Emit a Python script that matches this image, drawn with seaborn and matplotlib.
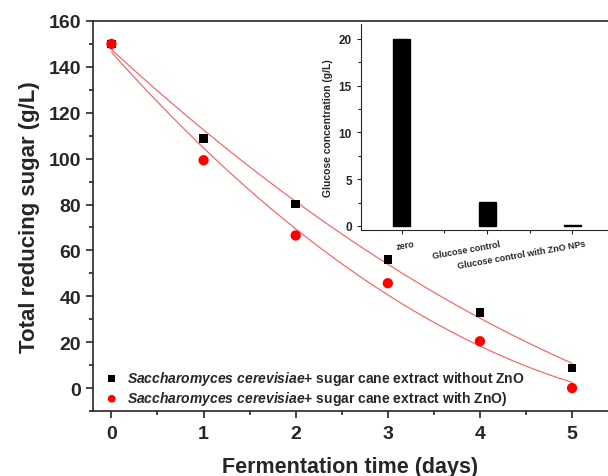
import numpy as np
import pandas as pd
import matplotlib
matplotlib.use('Agg')
import matplotlib.pyplot as plt
import matplotlib.transforms as mtransforms
from matplotlib.ticker import MultipleLocator
import seaborn as sns

sns.set_style('ticks')
plt.rcParams['font.family'] = ['Liberation Sans', 'DejaVu Sans']
plt.rcParams['mathtext.fontset'] = 'custom'
plt.rcParams['mathtext.it'] = 'Liberation Sans:italic:bold'
plt.rcParams['mathtext.rm'] = 'Liberation Sans:bold'

# --- data ---
days = [0, 1, 2, 3, 4, 5]
sugar_without_zno = [150, 108.7, 80.2, 56, 33, 8.8]
sugar_with_zno = [150, 99.3, 66.5, 45.7, 20.4, 0]

inset_labels = ['zero', 'Glucose control', 'Glucose control with ZnO NPs']
glucose_conc = [20, 2.55, 0.15]

label_without = r'$\mathit{Saccharomyces\ cerevisiae}$+ sugar cane extract without ZnO'
label_with = r'$\mathit{Saccharomyces\ cerevisiae}$+ sugar cane extract with ZnO)'

df = pd.DataFrame({'day': days, 'without': sugar_without_zno, 'with': sugar_with_zno})

fig = plt.figure(figsize=(6.08, 4.77), dpi=100)
ax = fig.add_axes([93 / 608, 65 / 477, 1 - 93 / 608, 390 / 477])

# fitted curves (2nd order) + points
sns.regplot(ax=ax, data=df, x='day', y='without', order=2, ci=None, scatter=False,
            line_kws={'color': '#ff5a5a', 'lw': 0.8})
sns.regplot(ax=ax, data=df, x='day', y='with', order=2, ci=None, scatter=False,
            line_kws={'color': '#ff5a5a', 'lw': 0.8})
sns.scatterplot(ax=ax, data=df, x='day', y='without', marker='s', color='black',
                s=38, edgecolor='none', label=label_without, zorder=3)
sns.scatterplot(ax=ax, data=df, x='day', y='with', marker='o', color='red',
                s=55, edgecolor='none', label=label_with, zorder=3)

ax.set_xlim(-0.2, 5.39)
ax.set_ylim(-10, 160)
ax.xaxis.set_major_locator(MultipleLocator(1))
ax.xaxis.set_minor_locator(MultipleLocator(0.5))
ax.yaxis.set_major_locator(MultipleLocator(20))
ax.yaxis.set_minor_locator(MultipleLocator(10))
ax.tick_params(which='major', direction='out', length=5, width=1.2, labelsize=14)
ax.tick_params(axis='x', which='major', pad=5)
ax.tick_params(which='minor', direction='out', length=3, width=1.2)
for lab in ax.get_xticklabels() + ax.get_yticklabels():
    lab.set_fontweight('bold')
for s in ['left', 'bottom', 'top']:
    ax.spines[s].set_linewidth(1.2)
ax.spines['right'].set_visible(False)
ax.set_xlabel('Fermentation time (days)', fontsize=15.5, fontweight='bold', labelpad=10)
ax.set_ylabel('Total reducing sugar (g/L)', fontsize=16, fontweight='bold', labelpad=6)

ax.legend(loc='lower left', bbox_to_anchor=(0.012, -0.005), borderaxespad=0,
          frameon=False, prop={'size': 10, 'weight': 'bold'},
          handlelength=1, handletextpad=0.6, labelspacing=0.15, markerscale=0.75)

# --- inset bar chart ---
ins = fig.add_axes([361 / 608, 246 / 477, 1 - 361 / 608, 206 / 477])
sns.barplot(ax=ins, x=inset_labels, y=glucose_conc, color='black', width=0.2,
            edgecolor='black', saturation=1)
ins.set_xlim(-0.48, 2.42)
ins.set_ylim(-0.43, 21.6)
ins.yaxis.set_major_locator(MultipleLocator(5))
ins.yaxis.set_minor_locator(MultipleLocator(2.5))
ins.set_xticks([0.5, 1.5], minor=True)
ins.tick_params(which='major', direction='out', length=3, width=0.8, labelsize=8.5)
ins.tick_params(which='minor', direction='out', length=2, width=0.8)
ins.spines['right'].set_visible(False)
ins.spines['top'].set_visible(False)
ins.set_ylabel('Glucose concentration (g/L)', fontsize=7.5, fontweight='bold', labelpad=4)
for lab in ins.get_yticklabels():
    lab.set_fontweight('bold')
offset = mtransforms.ScaledTranslation(12 / 100, 0, fig.dpi_scale_trans)
for lab in ins.get_xticklabels():
    lab.set_fontweight('bold')
    lab.set_fontsize(6.5)
    lab.set_rotation(10)
    lab.set_ha('right')
    lab.set_rotation_mode('anchor')
    lab.set_transform(lab.get_transform() + offset)

fig.savefig('out.png', dpi=100)
